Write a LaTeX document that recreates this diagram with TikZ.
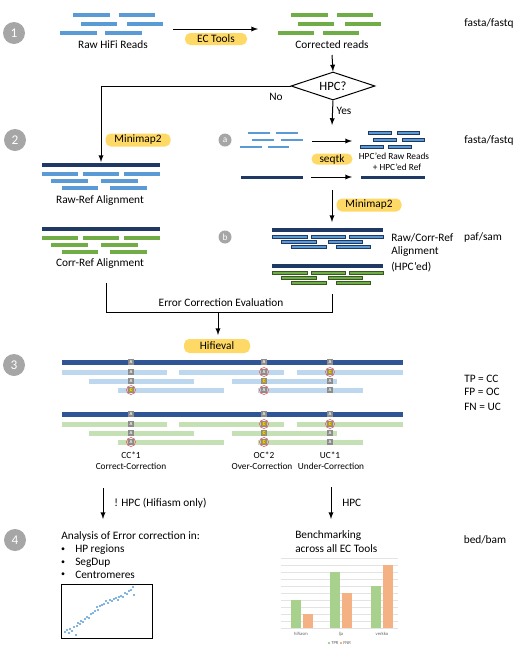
\documentclass[tikz,border=0pt]{standalone}
\usepackage{fontspec}
\setmainfont{Carlito}
\usetikzlibrary{arrows,shapes.geometric}

\definecolor{stepgray}{HTML}{A6A6A6}
\definecolor{readblue}{HTML}{5B9BD5}
\definecolor{readgreen}{HTML}{70AD47}
\definecolor{refnavy}{HTML}{1F3864}
\definecolor{refblue}{HTML}{2F5597}
\definecolor{lightblue}{HTML}{BDD7EE}
\definecolor{lightgreen}{HTML}{C5E0B4}
\definecolor{darkgreen}{HTML}{385723}
\definecolor{pillyellow}{HTML}{FFD966}
\definecolor{basegray}{HTML}{8C8C8C}
\definecolor{basegold}{HTML}{B59A2C}
\definecolor{ringred}{HTML}{E06666}
\definecolor{bargreen}{HTML}{A9D18E}
\definecolor{barorange}{HTML}{F4B183}
\definecolor{gridgray}{HTML}{E3E3E3}

\begin{document}
\begin{tikzpicture}[x=0.75pt,y=-0.75pt,
  numdot/.style={circle,fill=stepgray,text=white,minimum size=16.5pt,inner sep=0pt,font=\fontsize{10}{12}\selectfont},
  subdot/.style={circle,fill=stepgray,text=white,minimum size=9.75pt,inner sep=0pt,font=\fontsize{7}{8}\selectfont},
  pill/.style={rounded corners=4pt,fill=pillyellow,inner sep=0pt,font=\fontsize{8.5}{10}\selectfont},
  lbl/.style={inner sep=0pt,font=\fontsize{8.5}{10}\selectfont},
  smalllbl/.style={inner sep=0pt,font=\fontsize{7}{8.4}\selectfont},
  tinylbl/.style={inner sep=0pt,text=black!60,font=\fontsize{3.5}{4}\selectfont},
  arr/.style={-latex,line width=0.75pt},
  wire/.style={line width=0.75pt},
  basebox/.style={draw=black!45,line width=0.2pt,minimum size=3.75pt,inner sep=0pt,font=\fontsize{3.5}{4}\selectfont\bfseries},
  ring/.style={draw=ringred,line width=0.5pt}
]

\fill[white] (0,0) rectangle (520,654);
\useasboundingbox (0,0) rectangle (520,654);

% steps
\node[numdot] (s1) at (14,33) {1};
\node[numdot] (s2) at (15,140) {2};
\node[numdot] (s3) at (14,365) {3};
\node[numdot] (s4) at (15,540) {4};
\node[subdot] (sa) at (225,140) {a};
\node[subdot] (sb) at (225,237) {b};

\node[lbl] (fmt1) at (489,23) {fasta/fastq};
\node[lbl] (fmt2) at (489,140) {fasta/fastq};
\node[lbl] (fmt3) at (483,237) {paf/sam};
\node[lbl] (fmt4) at (485,540) {bed/bam};

% 1: reads
\foreach \a/\b/\y in {73/110/15,119/155/15,81/117/24,127/163/24,60/97/33,105/142/33}
    \fill[readblue] (\a,\y-2) rectangle (\b,\y+2);
\foreach \a/\b/\y in {291/328/15,337/373/15,298/334/24,345/381/24,278/314/33,323/359/33}
    \fill[readgreen] (\a,\y-2) rectangle (\b,\y+2);

\node[lbl] (rawlbl) at (113,45) {Raw HiFi Reads};
\node[lbl] (corrlbl) at (332,45) {Corrected reads};
\node[pill,minimum width=46.5pt,minimum height=9pt] (ectools) at (216,39) {EC Tools};

\coordinate (ec-s) at (173,29);
\coordinate (ec-e) at (258,29);
\draw[arr] (ec-s) -- (ec-e);

\node[diamond,draw,line width=0.75pt,aspect=3,minimum width=63pt,minimum height=21pt,inner sep=0pt,font=\fontsize{9.5}{11}\selectfont] (hpc) at (333,86) {HPC?};

\coordinate (corr-b) at (332,55);
\coordinate (no-e) at (101,162);
\coordinate (yes-e) at (332,125);
\draw[arr] (corr-b) -- (hpc.north);
\draw[arr] (hpc.west) -| (no-e);
\draw[arr] (hpc.south) -- (yes-e);
\node[lbl] (nolbl) at (276,97) {No};
\node[lbl] (yeslbl) at (344,111) {Yes};

% 2: alignments
\node[pill,minimum width=48.75pt,minimum height=9.75pt] (mm1) at (138,140) {Minimap2};

\foreach \dy/\c in {0/readblue,64/readgreen}{
    \fill[refnavy] (42,163+\dy) rectangle (160,167+\dy);
    \foreach \a/\b/\y in {42/78/174,83/119/174,124/160/174,51/88/181,101/138/181,62/98/188,110/147/188}
        \fill[\c] (\a,\y-1.75+\dy) rectangle (\b,\y+1.75+\dy);
}
\node[lbl] (rawref) at (100,201) {Raw-Ref Alignment};
\node[lbl] (corrref) at (100,264) {Corr-Ref Alignment};

% a: hpc
\foreach \a/\b/\y in {248/270/133,276/298/133,252/274/140,281/303/140,240/262/147,268/289/147}
    \fill[readblue] (\a,\y-1.25) rectangle (\b,\y+1.25);
\foreach \a/\b/\y in {368/391/133,397/419/133,373/396/140,402/424/140,360/383/147,388/411/147}
    \filldraw[fill=readblue,draw=refnavy,line width=0.4pt] (\a,\y-1.5) rectangle (\b,\y+1.5);
\fill[refnavy] (241,175.5) rectangle (303,178.5);
\fill[refnavy] (361,175.5) rectangle (425,178.5);

\coordinate (a-s1) at (312,141);
\coordinate (a-e1) at (352,141);
\coordinate (a-s2) at (311,177);
\coordinate (a-e2) at (352,177);
\draw[arr] (a-s1) -- (a-e1);
\draw[arr] (a-s2) -- (a-e2);
\node[pill,minimum width=30.75pt,minimum height=8.25pt] (seqtk) at (332,159) {seqtk};
\node[smalllbl] (hpcreads) at (394,156) {HPC'ed Raw Reads};
\node[smalllbl] (hpcref) at (397,167) {+ HPC'ed Ref};

% b: hpc alignments
\coordinate (mm-s) at (332,190);
\coordinate (mm-e) at (332,222);
\draw[arr] (mm-s) -- (mm-e);
\node[pill,minimum width=48.75pt,minimum height=9.75pt] (mm2) at (369,205) {Minimap2};

\foreach \dy/\c/\d in {0/readblue/refnavy,36/readgreen/darkgreen}{
    \fill[refnavy] (272,228+\dy) rectangle (383,232+\dy);
    \foreach \a/\b/\y in {272/307/237,311/345/237,349/383/237,281/316/242,328/362/242,291/326/247,336/370/247}
        \filldraw[fill=\c,draw=\d,line width=0.4pt] (\a,\y-1.5+\dy) rectangle (\b,\y+1.5+\dy);
}
\node[lbl,anchor=west] (hpcaln1) at (391,238) {Raw/Corr-Ref};
\node[lbl,anchor=west] (hpcaln2) at (391,252) {Alignment};
\node[lbl,anchor=west] (hpcaln3) at (391,267) {(HPC'ed)};

% evaluation
\coordinate (ev-l) at (106,283);
\coordinate (ev-r) at (332,294);
\coordinate (ev-m) at (218,312);
\coordinate (hf-e) at (218,335);
\draw[wire] (ev-l) -- (ev-l |- ev-m) -- (ev-r |- ev-m) -- (ev-r);
\draw[arr] (ev-m) -- (hf-e);
\node[lbl] (ece) at (221,303) {Error Correction Evaluation};

% 3: hifieval
\node[pill,minimum width=49.5pt,minimum height=10.5pt] (hifieval) at (217,346) {Hifieval};

\foreach \dy/\c in {0/lightblue,52/lightgreen}{
    \fill[refblue] (62,359.5+\dy) rectangle (403,364.5+\dy);
    \foreach \a/\b/\y in {62/167/372,179/284/372,297/403/372,89/194/381,232/337/381,118/224/390,258/363/390}
        \fill[\c] (\a,\y-2.5+\dy) rectangle (\b,\y+2.5+\dy);
}

\foreach \x/\y/\t/\f/\k in {131/362/A/basegray/white,131/372/A/basegray/white,131/381/A/basegray/white,131/390/C/basegold/yellow,
    264/362/A/basegray/white,264/372/A/basegray/white,264/381/C/basegold/yellow,264/390/A/basegray/white,
    330/362/A/basegray/white,330/372/C/basegold/yellow,330/381/A/basegray/white,330/390/A/basegray/white,
    131/414/A/basegray/white,131/424/A/basegray/white,131/433/A/basegray/white,131/442/A/basegray/white,
    264/414/A/basegray/white,264/424/C/basegold/yellow,264/433/C/basegold/yellow,264/442/C/basegold/yellow,
    330/414/A/basegray/white,330/424/C/basegold/yellow,330/433/A/basegray/white,330/442/A/basegray/white}
    \node[basebox,fill=\f,text=\k] (n\x\y) at (\x,\y) {\t};

\foreach \x/\y in {131/390,264/372,264/390,330/372,131/442,264/424,264/442,330/424}
    \draw[ring] (\x,\y) circle (4.5);

\node[smalllbl] (cc) at (131,455) {CC*1};
\node[smalllbl] (cclbl) at (131,466) {Correct-Correction};
\node[smalllbl] (oc) at (264,455) {OC*2};
\node[smalllbl] (oclbl) at (262,466) {Over-Correction};
\node[smalllbl] (uc) at (330,455) {UC*1};
\node[smalllbl] (uclbl) at (331,466) {Under-Correction};

\node[lbl,anchor=west] (tp) at (464,379) {TP = CC};
\node[lbl,anchor=west] (fp) at (464,392) {FP = OC};
\node[lbl,anchor=west] (fn) at (464,407) {FN = UC};

% 4: analysis
\coordinate (nh-s) at (103,488);
\coordinate (nh-e) at (103,519);
\coordinate (h-s) at (331,487);
\coordinate (h-e) at (331,519);
\draw[arr] (nh-s) -- (nh-e);
\draw[arr] (h-s) -- (h-e);
\node[lbl,anchor=west] (nhlbl) at (114,503) {! HPC (Hifiasm only)};
\node[lbl,anchor=west] (hlbl) at (342,503) {HPC};

\node[lbl,anchor=west] (anal) at (61,536) {Analysis of Error correction in:};
\foreach \y/\t in {550/HP regions,563/SegDup,575/Centromeres}{
    \node[inner sep=0pt,font=\fontsize{6}{7}\selectfont] (dot\y) at (63,\y) {•};
    \node[lbl,anchor=west] (item\y) at (75,\y) {\t};
}

\draw[line width=0.75pt] (61,584) rectangle (152,638);
\foreach \x/\y in {65/632,67/630,69/633,70/629,72/631,74/627,76/635,77/626,78/623,80/624,
    81/621,83/622,85/619,87/617,89/618,91/614,93/613,95/611,97/607,98/610,
    100/606,102/605,104/604,106/601,108/603,110/600,112/601,114/599,116/598,118/600,
    119/597,121/596,123/597,125/593,127/594,129/591,131/590,133/587,134/595}
    \fill[readblue] (\x,\y) circle (1.1);

\node[lbl,anchor=west] (bench1) at (295,536) {Benchmarking};
\node[lbl,anchor=west] (bench2) at (295,549) {across all EC Tools};

\foreach \y in {558,565,...,628}
    \draw[gridgray,line width=0.4pt] (281,\y) -- (398,\y);
\foreach \a/\t/\c in {291/600/bargreen,303/614/barorange,330/572/bargreen,342/593/barorange,371/586/bargreen,383/565/barorange}
    \fill[\c] (\a,\t) rectangle (\a+9.5,628);
\node[tinylbl] (t1) at (301,634) {hifiasm};
\node[tinylbl] (t2) at (341,634) {lja};
\node[tinylbl] (t3) at (382,634) {verkko};
\fill[bargreen] (328,642) rectangle (330,644);
\node[tinylbl,anchor=west] (lg1) at (331,643) {TPR};
\fill[barorange] (340,642) rectangle (342,644);
\node[tinylbl,anchor=west] (lg2) at (343,643) {FNR};

\end{tikzpicture}
\end{document}
